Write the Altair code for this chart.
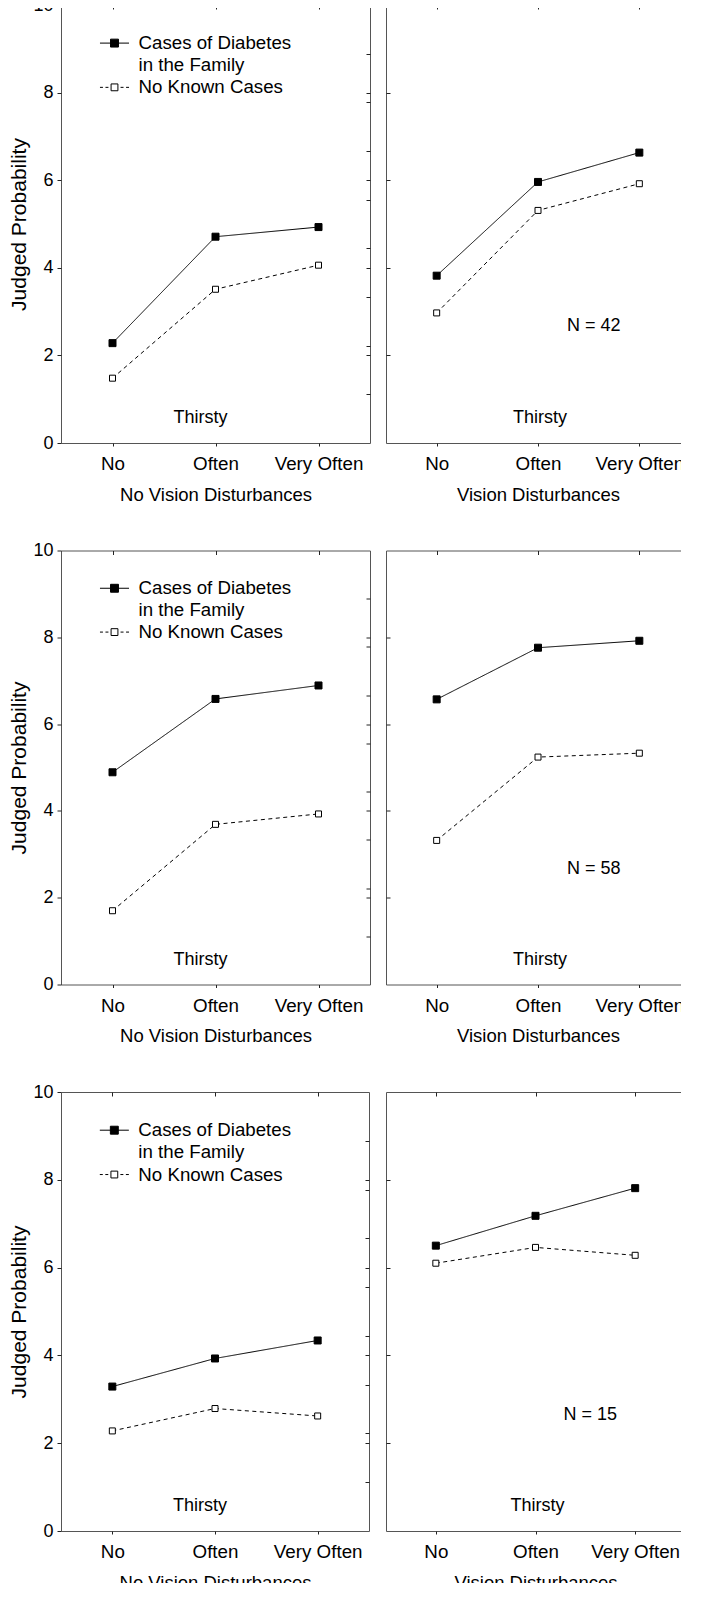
import altair as alt
import pandas as pd

# ---------------- data ----------------
LEVELS = ["No", "Often", "Very Often"]
SERIES = ["Cases of Diabetes in the Family", "No Known Cases"]
LEGEND_KEYS = ["Cases of Diabetes", "in the Family", "No Known Cases"]

# one list per row (top, middle, bottom), values for No / Often / Very Often
FAMILY_NO_VISION = [[2.28, 4.71, 4.93], [4.89, 6.58, 6.89], [3.29, 3.93, 4.34]]
NONE_NO_VISION = [[1.48, 3.51, 4.06], [1.70, 3.69, 3.93], [2.28, 2.79, 2.62]]
FAMILY_VISION = [[3.82, 5.96, 6.63], [6.57, 7.76, 7.92], [6.50, 7.18, 7.81]]
NONE_VISION = [[2.97, 5.31, 5.92], [3.32, 5.24, 5.33], [6.10, 6.46, 6.28]]

N_LABELS = ["N = 42", "N = 58", "N = 15"]
THIRSTY_LABEL = "Thirsty"
X_TITLES = ["No Vision Disturbances", "Vision Disturbances"]
Y_TITLE = "Judged Probability"
Y_TICKS = [0, 2, 4, 6, 8, 10]

# ---------------- layout / style ----------------
FONT = "Liberation Sans"
HEIGHTS = [438, 434, 439]
LEFT_W = [309, 309, 308]
RIGHT_W = [304, 304, 299]
N_Y = [2.66, 2.67, 2.64]          # annotation heights (axis units)
THIRSTY_Y = [0.57, 0.57, 0.58]
LEGEND_Y = [9.13, 8.63, 8.12]     # legend rows (axis units)
INNER_TICKS = [2, 4, 6, 8]
# secondary right-hand ticks of a 0-9 scale drawn over the same frame
SECOND_TICKS = [k * 10 / 9 for k in range(1, 9)]

PATH_FAMILY = "M-1.32,0H1.32M-0.36,-0.36H0.36V0.36H-0.36Z"
PATH_NONE = ("M-1.32,0H-1.05M-0.82,0H-0.55M0.55,0H0.82M1.05,0H1.32"
             "M-0.31,-0.31H0.31V0.31H-0.31Z")


def tick_axis(orient, values=None):
    kw = dict(orient=orient, labels=False, title=None,
              tickSize=4, offset=-4, domain=False, grid=False)
    if values is not None:
        kw["values"] = values
    return alt.Axis(**kw)


XS = alt.Scale(type="point", domain=LEVELS, padding=0.5)
YS = alt.Scale(domain=[0, 10], nice=False, zero=False)
X_PLAIN = alt.X("level:N", sort=LEVELS, axis=None)
Y_PLAIN = alt.Y("value:Q", axis=None)


def panel(row, side):
    fam = (FAMILY_NO_VISION if side == 0 else FAMILY_VISION)[row]
    non = (NONE_NO_VISION if side == 0 else NONE_VISION)[row]
    df = pd.DataFrame({
        "level": LEVELS * 2,
        "value": fam + non,
        "series": [SERIES[0]] * 3 + [SERIES[1]] * 3,
    })
    w = LEFT_W[row] if side == 0 else RIGHT_W[row]
    h = HEIGHTS[row]

    x_main = alt.X("level:N", scale=XS, sort=LEVELS,
                   axis=alt.Axis(title=X_TITLES[side], labelAngle=0, tickSize=3,
                                 labelPadding=8.6, titlePadding=12, labelFontSize=18.8,
                                 domain=False, grid=False))
    if side == 0:
        y_axis = alt.Axis(title=Y_TITLE, values=Y_TICKS, tickSize=4,
                          labelPadding=4, titlePadding=3,
                          titleFontSize=21, domain=False, grid=False)
    else:
        y_axis = tick_axis("left", INNER_TICKS)
    y_main = alt.Y("value:Q", scale=YS, axis=y_axis)

    base = alt.Chart(df)
    lines = base.mark_line(color="black", strokeWidth=1).encode(
        x=x_main, y=y_main,
        strokeDash=alt.StrokeDash("series:N",
                                  scale=alt.Scale(domain=SERIES, range=[[1, 0], [4, 3.5]]),
                                  legend=None),
    )
    is_fam = alt.datum.series == SERIES[0]
    points = base.mark_square(stroke="black", strokeWidth=1, opacity=1).encode(
        x=X_PLAIN, y=Y_PLAIN,
        fill=alt.condition(is_fam, alt.value("black"), alt.value("white")),
        size=alt.condition(is_fam, alt.value(49), alt.value(36)),
    )
    thirsty_df = pd.DataFrame({"level": ["Often"], "value": [THIRSTY_Y[row]],
                               "label": [THIRSTY_LABEL]})
    thirsty = alt.Chart(thirsty_df).mark_text(
        font=FONT, fontSize=18, color="black", baseline="middle",
        dx=-15 if side == 0 else 2,
    ).encode(x=X_PLAIN, y=Y_PLAIN, text="label:N")
    parts = [lines, points, thirsty]

    if side == 1:
        n_df = pd.DataFrame({"level": ["Often"], "value": [N_Y[row]],
                             "label": [N_LABELS[row]]})
        ntext = alt.Chart(n_df).mark_text(
            font=FONT, fontSize=18, color="black", baseline="middle", dx=w / 6 + 5,
        ).encode(x=X_PLAIN, y=Y_PLAIN, text="label:N")
        parts.append(ntext)
        right_ticks = SECOND_TICKS
    else:
        leg_df = pd.DataFrame({"level": ["No"] * 3, "value": LEGEND_Y,
                               "label": LEGEND_KEYS, "entry": [0, 1, 2]})
        leg = alt.Chart(leg_df)
        sym_fam = leg.transform_filter(alt.datum.entry == 0).mark_point(
            shape=PATH_FAMILY, size=484, filled=True, fill="black", stroke="black",
            strokeWidth=1, opacity=1, xOffset=2,
        ).encode(x=X_PLAIN, y=Y_PLAIN)
        sym_none = leg.transform_filter(alt.datum.entry == 2).mark_point(
            shape=PATH_NONE, size=484, filled=True, fill="white", stroke="black",
            strokeWidth=1, opacity=1, xOffset=2,
        ).encode(x=X_PLAIN, y=Y_PLAIN)
        leg_text = leg.mark_text(
            font=FONT, fontSize=18.7, color="black", baseline="middle", align="left", dx=26,
        ).encode(x=X_PLAIN, y=Y_PLAIN, text="label:N")
        parts += [sym_fam, sym_none, leg_text]
        right_ticks = sorted(SECOND_TICKS + INNER_TICKS)

    empty = alt.Chart(df).transform_filter("false")
    right = empty.mark_point().encode(
        y=alt.Y("value:Q", axis=tick_axis("right", right_ticks)))
    top = empty.mark_point().encode(
        x=alt.X("level:N", sort=LEVELS, axis=tick_axis("top")))
    parts += [right, top]
    return alt.layer(*parts).resolve_axis(x="independent", y="independent").properties(
        width=w, height=h)


panels = [panel(r, s) for r in range(3) for s in range(2)]

chart = (
    alt.concat(*panels, columns=2, spacing={"row": 35.5, "column": 14})
    .resolve_scale(strokeDash="independent")
    .properties(padding={"left": 0, "top": -13, "right": -10, "bottom": -10})
    .configure(font=FONT)
    .configure_view(stroke="#555555", strokeWidth=1)
    .configure_axis(labelFont=FONT, titleFont=FONT, labelColor="black", titleColor="black",
                    tickColor="#222222", labelFontSize=18, titleFontSize=18.5,
                    titleFontWeight="normal")
)

chart.save("out.html", embed_options={"renderer": "svg", "actions": False})
